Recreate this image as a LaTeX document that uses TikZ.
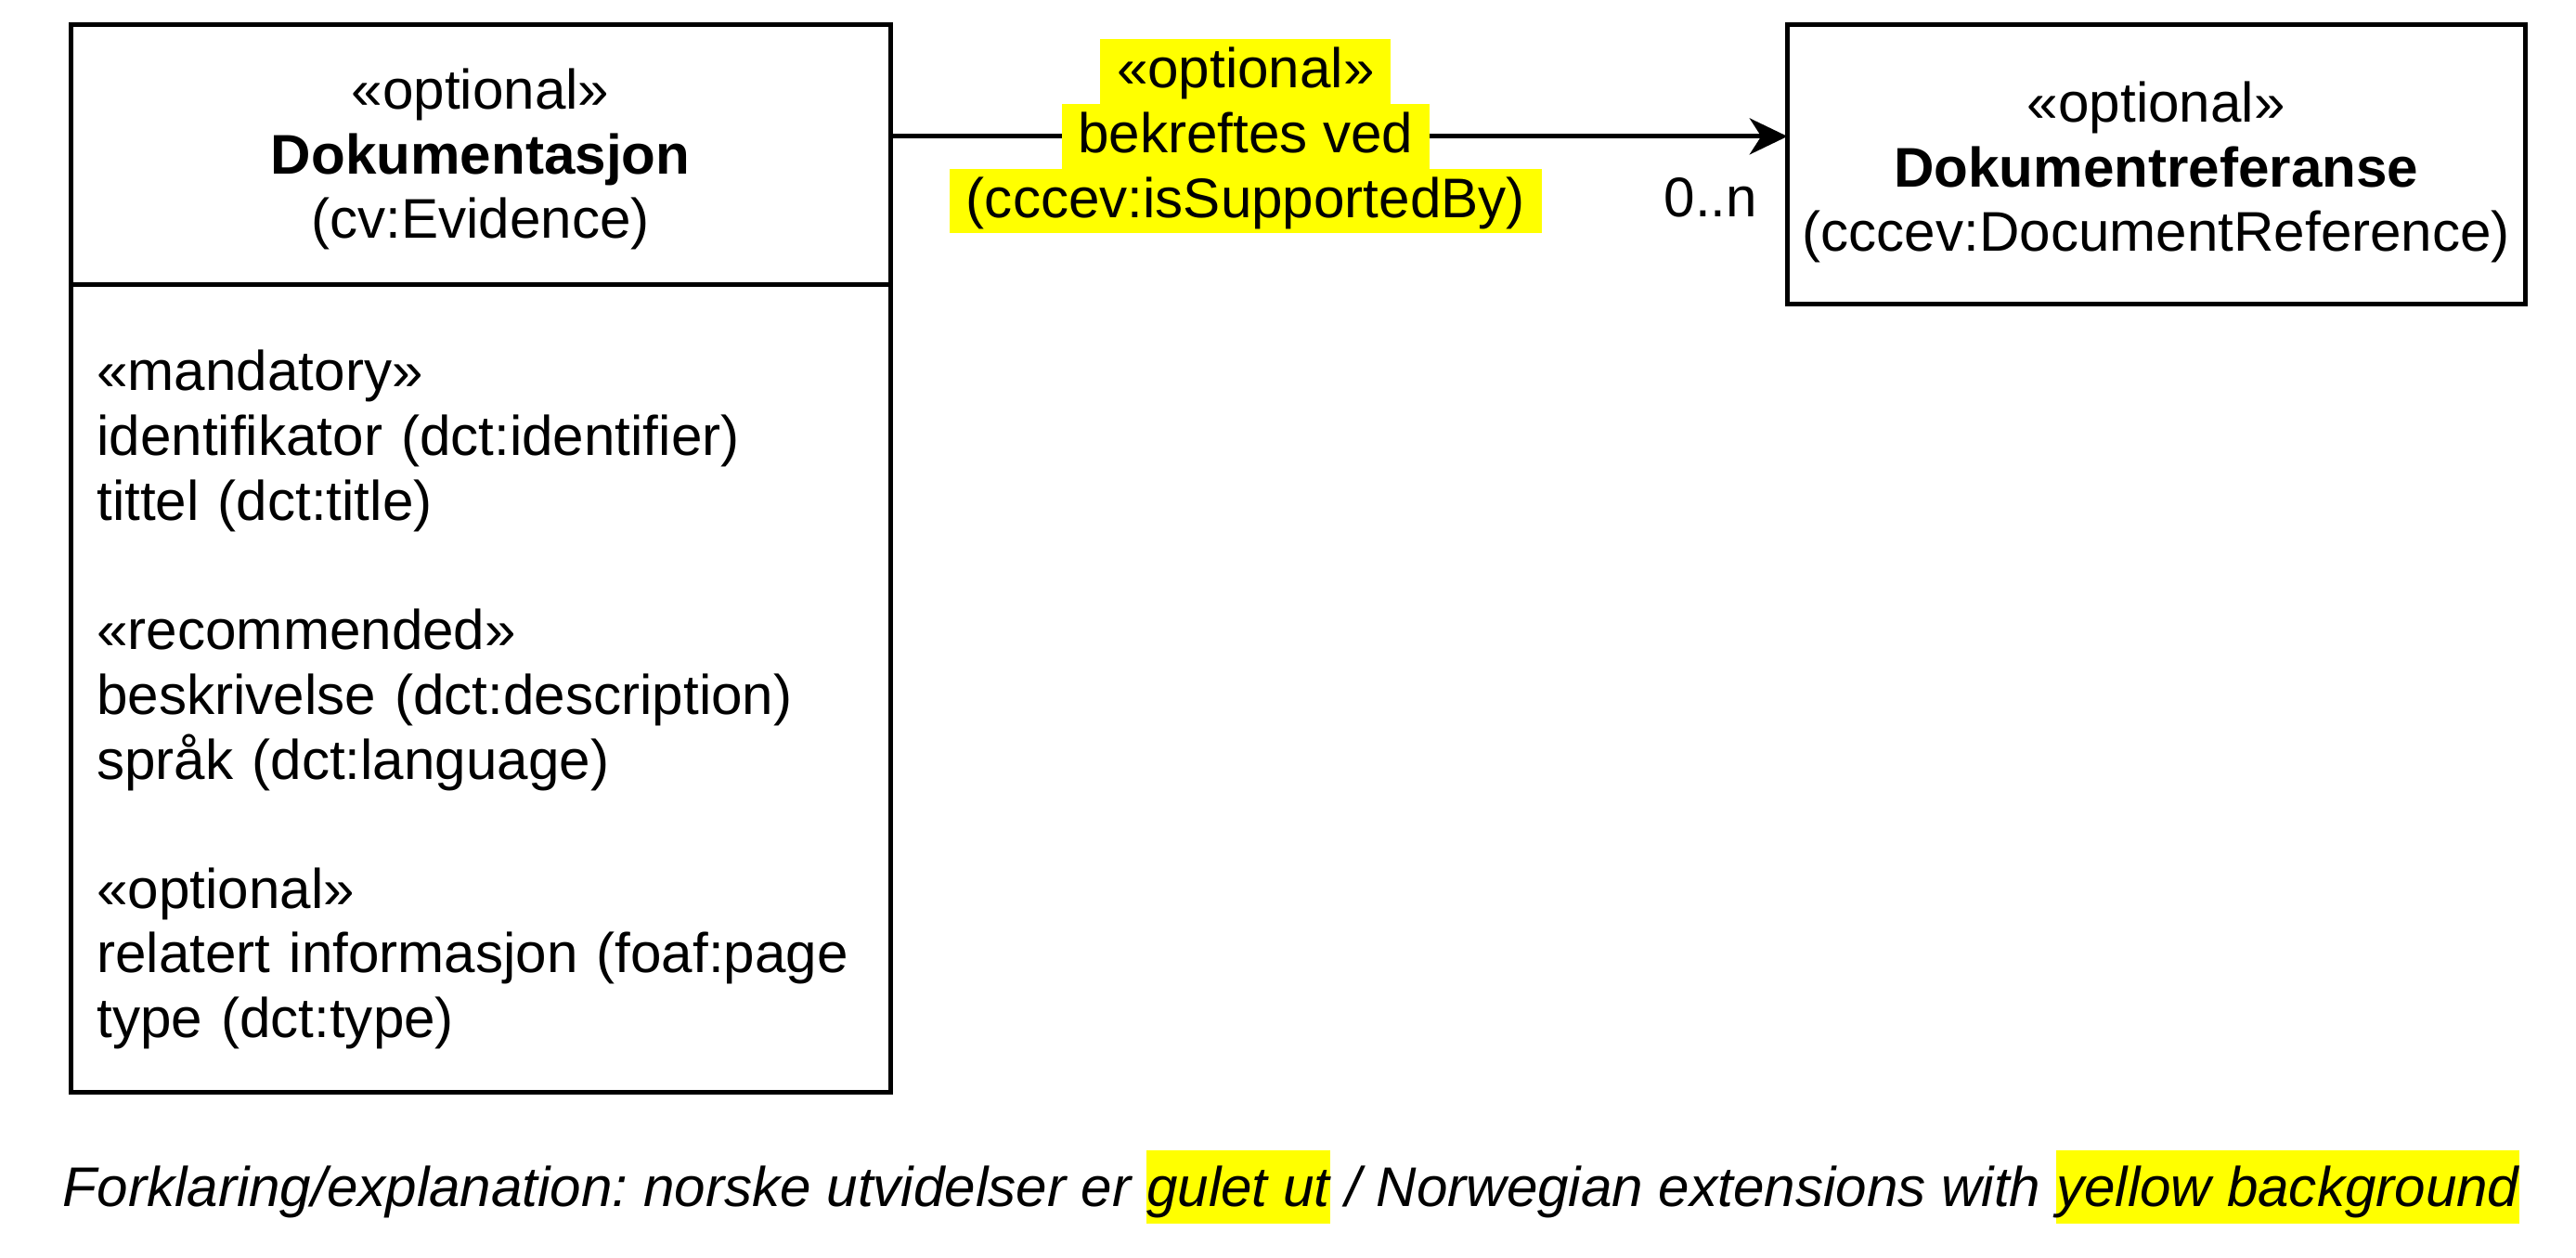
\documentclass[tikz,border=0pt]{standalone}
\usepackage{fontspec}
\setmainfont{Liberation Sans}
\usepackage{xcolor}
\usetikzlibrary{arrows.meta,positioning,calc}
\definecolor{gul}{HTML}{FFFF00}
\newcommand{\gult}[1]{{\setlength{\fboxsep}{0pt}\colorbox{gul}{\rule[-5.5pt]{0pt}{22.5pt}#1}}}
\frenchspacing
\tikzset{
	classbox/.style={
			draw, line width=1.4pt, outer sep=0pt, inner xsep=2pt,
			align=center
		},
	attrbox/.style={
			classbox, align=left, inner xsep=8pt, text width=233.5pt
		},
	assoc/.style={
			line width=1.4pt, -{Stealth[length=11.5pt, width=11pt, inset=3.5pt]}
		},
	gullab/.style={
			fill=gul, inner xsep=5pt, inner ysep=0pt, outer sep=0pt,
			text height=14.8pt, text depth=4.9pt
		}
}

\begin{document}
\begin{tikzpicture}[x=0.5pt, y=-0.5pt, font=\fontsize{17pt}{19.7pt}\selectfont]
		\useasboundingbox (0,0) rectangle (1568,765.6);
		% klassen Dokumentasjon
		\node [classbox, minimum width=249.5pt, minimum height=79pt] (dok) at (292.5,94)
			{\rule{0pt}{15.2pt}«optional»\\\textbf{Dokumentasjon}\\(cv:Evidence)};
		\node [attrbox, minimum height=246pt, below=0pt of dok] (dokattr)
			{\rule{0pt}{19.2pt}«mandatory»\\
			identifikator (dct:identifier)\\
			tittel (dct:title)\\[19.6pt]
			«recommended»\\
			beskrivelse (dct:description)\\
			språk (dct:language)\\[19.6pt]
			«optional»\\
			relatert informasjon (foaf:page\\
			type (dct:type)};
		% klassen Dokumentreferanse
		\node [classbox, minimum width=224.5pt, minimum height=85pt] (dokref) at (1312.5,100)
			{\rule{0pt}{17.2pt}«optional»\\\textbf{Dokumentreferanse}\\(cccev:DocumentReference)};
		% assosiasjon
		\coordinate (kilde) at ([yshift=5.5pt]dok.east);
		\coordinate (maal) at (kilde -| dokref.west);
		\draw [assoc] (kilde) -- (maal)
			node [gullab, pos=0.396] (lab2) {bekreftes ved};
		\node [gullab, above=0pt of lab2] (lab1) {«optional»};
		\node [gullab, below=0pt of lab2] (lab3) {(cccev:isSupportedBy)};
		\node [anchor=base east, inner sep=0pt] (mult) at ([shift={(-9pt,-24.5pt)}]maal) {0..n};
		% forklaring
		\node [anchor=base west, inner sep=0pt] (forklaring) at (38,734)
			{\itshape Forklaring/explanation: norske utvidelser er \gult{gulet ut} / Norwegian extensions with \gult{yellow background}};
	\end{tikzpicture}
\end{document}
